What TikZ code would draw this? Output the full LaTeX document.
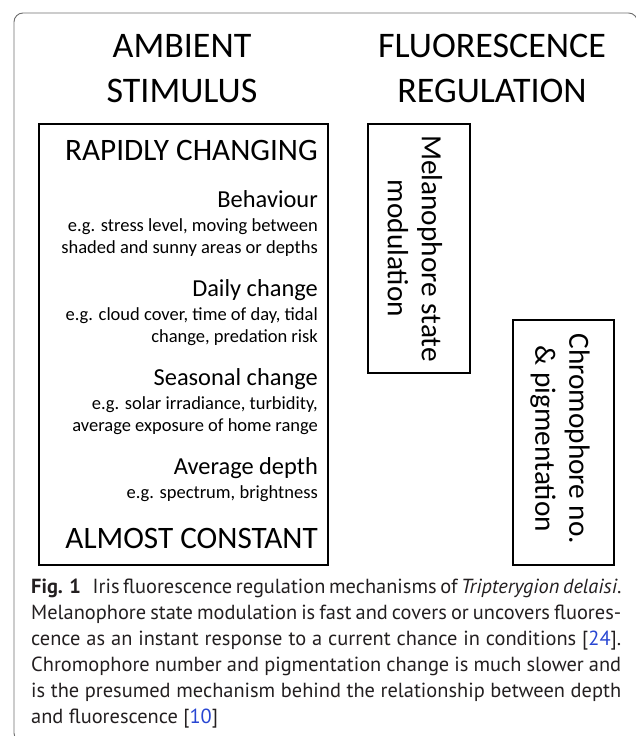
\documentclass[tikz,border=0pt]{standalone}
\usepackage{fontspec}
\setmainfont{Carlito}
\newfontfamily\capfont{PT Sans}
\definecolor{framegray}{RGB}{110,110,110}
\definecolor{captext}{RGB}{35,31,32}
\definecolor{citeblue}{RGB}{40,70,210}
\begin{document}
\begin{tikzpicture}[x=1pt,y=-1pt,
  box/.style={draw=black, line width=1.5pt, inner sep=0pt},
  titletext/.style={font=\fontsize{36}{45}\selectfont, inner sep=0pt, anchor=base},
  bigtext/.style={font=\fontsize{31.2}{38}\selectfont, inner sep=0pt, anchor=base east},
  subtext/.style={font=\fontsize{24.4}{30}\selectfont, inner sep=0pt, anchor=base east},
  egtext/.style={font=\fontsize{18.5}{22}\selectfont, inner sep=0pt, anchor=base east},
  rottext/.style={font=\fontsize{29.3}{34}\selectfont, inner sep=0pt, align=center, rotate=-90},
  captionline/.style={font=\capfont\fontsize{20.4}{26}\selectfont, text=captext, inner sep=0pt, anchor=base west}
]
\useasboundingbox (0,0) rectangle (636,736);
\clip (0,0) rectangle (636,736);
\draw[framegray, line width=0.9pt, rounded corners=9pt] (14,13) rectangle (637.5,742);

% titles
\node[titletext] (t1a) at (182,57) {AMBIENT};
\node[titletext] (t1b) at (182,102) {STIMULUS};
\node[titletext] (t2a) at (492,57) {FLUORESCENCE};
\node[titletext] (t2b) at (492,102) {REGULATION};

% left box
\node[box, minimum width=289pt, minimum height=441pt] (amb) at (183.5,344.5) {};
\node[bigtext] (rc) at (318,160) {RAPIDLY CHANGING};
\node[subtext] (beh) at (318,207) {Behaviour};
\node[egtext] (beh1) at (318,231) {e.g. stress level, moving between};
\node[egtext] (beh2) at (318,253) {shaded and sunny areas or depths};
\node[subtext] (day) at (318,296) {Daily change};
\node[egtext] (day1) at (318,320) {e.g. cloud cover, time of day, tidal};
\node[egtext] (day2) at (318,342) {change, predation risk};
\node[subtext] (sea) at (318,385) {Seasonal change};
\node[egtext] (sea1) at (318,409) {e.g. solar irradiance, turbidity,};
\node[egtext] (sea2) at (318,431) {average exposure of home range};
\node[subtext] (dep) at (318,474) {Average depth};
\node[egtext] (dep1) at (318,498) {e.g. spectrum, brightness};
\node[bigtext] (ac) at (318,548) {ALMOST CONSTANT};

% right boxes
\node[box, minimum width=102pt, minimum height=249pt] (mel) at (419,248.5) {};
\node[rottext] (meltext) at (415,248.5) {Melanophore state\\modulation};
\node[box, minimum width=101pt, minimum height=245pt] (chr) at (563.5,442.5) {};
\node[rottext] (chrtext) at (560,439) {Chromophore no.\\\& pigmentation};

% caption
\node[captionline] (c1) at (31,593) {\makebox[590pt][s]{\textbf{Fig. 1}\hspace{0.4em} Iris fluorescence regulation mechanisms of \textit{Tripterygion delaisi}.}};
\node[captionline] (c2) at (31,619) {\makebox[590pt][s]{Melanophore state modulation is fast and covers or uncovers fluores-}};
\node[captionline] (c3) at (31,645) {\makebox[590pt][s]{cence as an instant response to a current chance in conditions [{\color{citeblue}24}].}};
\node[captionline] (c4) at (31,671) {\makebox[590pt][s]{Chromophore number and pigmentation change is much slower and}};
\node[captionline] (c5) at (31,697) {\makebox[590pt][s]{is the presumed mechanism behind the relationship between depth}};
\node[captionline] (c6) at (31,723) {and fluorescence [{\color{citeblue}10}]};
\end{tikzpicture}
\end{document}
